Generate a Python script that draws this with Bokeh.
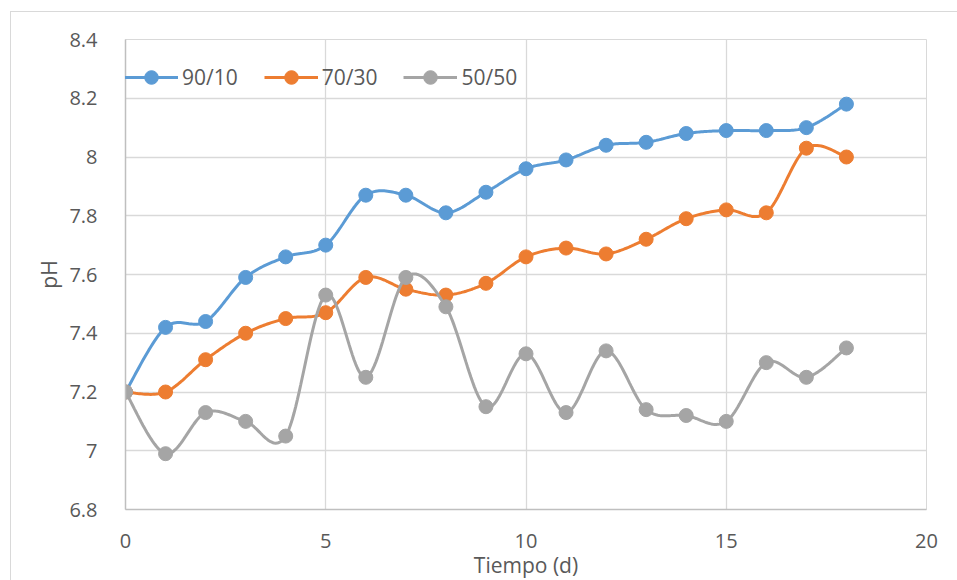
import numpy as np
from bokeh.plotting import figure
from bokeh.models import Range1d, Legend, LegendItem, FixedTicker
from bokeh.embed import file_html
from bokeh.resources import INLINE

# pH over time for three mixing ratios
dias = list(range(0, 19))
ph_90_10 = [7.20, 7.42, 7.44, 7.59, 7.66, 7.70, 7.87, 7.87, 7.81, 7.88,
            7.96, 7.99, 8.04, 8.05, 8.08, 8.09, 8.09, 8.10, 8.18]
ph_70_30 = [7.20, 7.20, 7.31, 7.40, 7.45, 7.47, 7.59, 7.55, 7.53, 7.57,
            7.66, 7.69, 7.67, 7.72, 7.79, 7.82, 7.81, 8.03, 8.00]
ph_50_50 = [7.20, 6.99, 7.13, 7.10, 7.05, 7.53, 7.25, 7.59, 7.49, 7.15,
            7.33, 7.13, 7.34, 7.14, 7.12, 7.10, 7.30, 7.25, 7.35]
series_names = ["90/10", "70/30", "50/50"]
series_colors = ["#5B9BD5", "#ED7D31", "#A5A5A5"]
x_ticks = [0, 5, 10, 15, 20]
y_ticks = [6.8, 7.0, 7.2, 7.4, 7.6, 7.8, 8.0, 8.2, 8.4]

FONT = "Open Sans"
TEXT = "#595959"


def smooth(xs, ys, steps=24):
    """Catmull-Rom style smoothed path through the points (drawing only)."""
    x = np.asarray(xs, float)
    y = np.asarray(ys, float)
    px = np.concatenate([[x[0]], x, [x[-1]]])
    py = np.concatenate([[y[0]], y, [y[-1]]])
    out_x, out_y = [x[0]], [y[0]]
    t = np.linspace(0, 1, steps + 1)[1:]
    for i in range(1, len(px) - 2):
        p0, p1, p2, p3 = (px[i - 1], py[i - 1]), (px[i], py[i]), (px[i + 1], py[i + 1]), (px[i + 2], py[i + 2])
        c1 = (p1[0] + (p2[0] - p0[0]) / 6, p1[1] + (p2[1] - p0[1]) / 6)
        c2 = (p2[0] - (p3[0] - p1[0]) / 6, p2[1] - (p3[1] - p1[1]) / 6)
        for tt in t:
            a = (1 - tt) ** 3
            b = 3 * (1 - tt) ** 2 * tt
            c = 3 * (1 - tt) * tt ** 2
            d = tt ** 3
            out_x.append(a * p1[0] + b * c1[0] + c * c2[0] + d * p2[0])
            out_y.append(a * p1[1] + b * c1[1] + c * c2[1] + d * p2[1])
    return out_x, out_y


p = figure(width=947, height=569, output_backend="svg", toolbar_location=None,
           x_range=Range1d(0, 20), y_range=Range1d(6.8, 8.4),
           min_border_left=114, min_border_right=32, min_border_top=27, min_border_bottom=52)
p.margin = (11, 0, 0, 10)
p.styles = {"border-left": "1px solid #D9D9D9", "border-top": "1px solid #D9D9D9"}
p.outline_line_color = "#D9D9D9"
p.background_fill_color = "white"
p.border_fill_color = "white"

for ax in (p.xaxis[0], p.yaxis[0]):
    ax.major_tick_line_color = None
    ax.minor_tick_line_color = None
    ax.major_label_text_font = FONT
    ax.major_label_text_font_size = "20px"
    ax.major_label_text_color = TEXT
    ax.axis_label_text_font = FONT
    ax.axis_label_text_font_size = "21px"
    ax.axis_label_text_font_style = "normal"
    ax.axis_label_text_color = TEXT
    ax.axis_line_color = "#BFBFBF"
    ax.axis_line_width = 1.5

p.xaxis.ticker = FixedTicker(ticks=x_ticks)
p.yaxis.ticker = FixedTicker(ticks=y_ticks)
p.yaxis.major_label_overrides = {v: ("7" if v == 7.0 else "8" if v == 8.0 else f"{v:g}") for v in y_ticks}
p.xaxis.axis_label = "Tiempo (d)"
p.yaxis.axis_label = "pH"
p.xaxis.major_label_standoff = 18
p.yaxis.major_label_standoff = 22
p.xaxis.axis_label_standoff = 0
p.yaxis.axis_label_standoff = 3

p.xgrid.ticker = FixedTicker(ticks=x_ticks)
p.ygrid.ticker = FixedTicker(ticks=y_ticks)
p.grid.grid_line_color = "#D9D9D9"
p.grid.grid_line_width = 1.3

items = []
for name, col, ys in zip(series_names, series_colors, [ph_90_10, ph_70_30, ph_50_50]):
    sx, sy = smooth(dias, ys)
    ln = p.line(sx, sy, line_color=col, line_width=3)
    sc = p.scatter(dias, ys, size=14, fill_color=col, line_color=col)
    items.append(LegendItem(label=name, renderers=[ln, sc]))

legend = Legend(items=items, orientation="horizontal", location=(-1, 415),
                glyph_width=54, glyph_height=34, label_standoff=4, spacing=26,
                padding=0, margin=0, border_line_color=None, background_fill_alpha=0,
                label_text_font=FONT, label_text_font_size="21px", label_text_color=TEXT)
p.add_layout(legend, "center")

open("out.html", "w").write(file_html(p, INLINE))
